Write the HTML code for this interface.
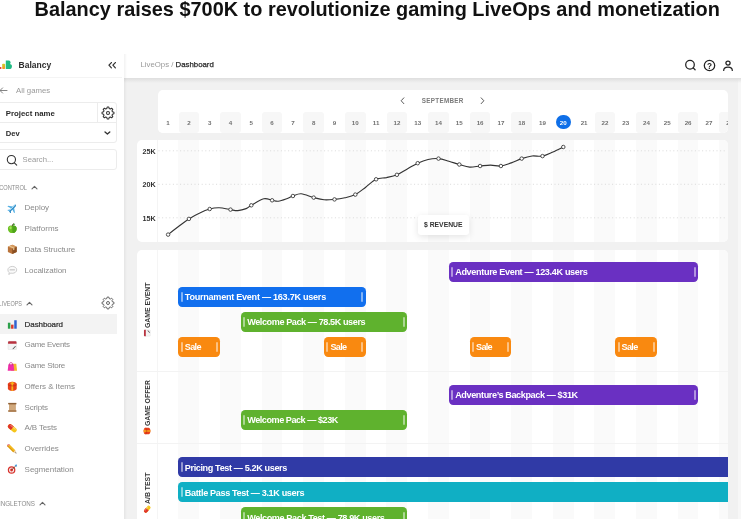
<!DOCTYPE html>
<html lang="en"><head><meta charset="utf-8"><title>Balancy raises $700K to revolutionize gaming LiveOps and monetization</title>
<style>
html,body{margin:0;padding:0}
body{width:741px;height:519px;overflow:hidden;background:#fff;position:relative;font-family:"Liberation Sans",sans-serif;color:#2b2b2b}
.a{position:absolute;white-space:nowrap}
.t{position:absolute;white-space:nowrap;line-height:12px;height:12px;transform-origin:0 50%}
#title{left:34.6px;top:-3.5px;font-weight:bold;font-size:19.9px;line-height:24px;color:#111;letter-spacing:0}
#main{left:124px;top:77.5px;width:613.5px;height:442px;background:#f1f1f1}
#mainr{left:737.5px;top:77.5px;width:4px;height:442px;background:#f7f7f7}
#hshadow{left:124px;top:77.5px;width:617px;height:5px;background:linear-gradient(#dedede,rgba(241,241,241,0))}
#sshadow{left:121px;top:54px;width:6px;height:465px;background:linear-gradient(90deg,rgba(0,0,0,0),rgba(0,0,0,.05) 50%,rgba(0,0,0,0))}
.card{position:absolute;background:#fff;border-radius:5px;overflow:hidden}
.nav{color:#8a8a8a;font-size:7.9px}
.bar{position:absolute;height:20.6px;border-radius:4.2px;color:#fff;font-weight:bold;font-size:9.1px}
.bar i{position:absolute;top:5.3px;width:2px;height:9.8px;background:rgba(255,255,255,.48);border-radius:1px}
.bar i.l{left:2.3px}.bar i.r{right:2.3px}
.bar span{position:absolute;left:6.3px;top:4.7px;line-height:12px;white-space:nowrap}
.day{position:absolute;top:0;width:20.8px;height:21px;line-height:21.8px;text-align:center;font-size:6.2px;font-weight:bold;color:#707070}
.vl{position:absolute;white-space:nowrap;font-weight:bold;font-size:6.9px;line-height:8px;height:8px;color:#383838;transform-origin:0 0;transform:rotate(-90deg)}
</style></head><body>

<div id="title" class="a">Balancy raises $700K to revolutionize gaming LiveOps and monetization</div>
<div id="app" class="a" style="left:0;top:0;width:741px;height:519px;filter:blur(0.4px)">
<div id="main" class="a"></div><div id="mainr" class="a"></div><div id="hshadow" class="a"></div><div id="sshadow" class="a"></div>
<div id="side" class="a" style="left:0;top:54px;width:124px;height:465px;background:#fff"></div>
<div class="a" style="left:0;top:77px;width:122px;height:1px;background:#f4f4f4"></div>
<svg class="a" style="left:0;top:59px" width="14" height="11" viewBox="0 0 14 11"><defs><linearGradient id="lg1" x1="0" y1="0" x2="0" y2="1"><stop offset="0" stop-color="#c9d42c"/><stop offset="1" stop-color="#f7941f"/></linearGradient></defs><rect x="-1" y="8" width="2.500" height="2" rx=".7" fill="#e5433e"/><rect x="2.200" y="4.700" width="2.900" height="5.300" rx=".8" fill="url(#lg1)"/><path d="M5.800 1.500h2.700a2.100 2.100 0 0 1 1.500 3.600 2.500 2.500 0 0 1-1.200 4.900H5.800z" fill="#20ba83"/></svg>
<div class="t" style="left:18.600px;top:58.700px;font-weight:bold;font-size:8.500px;color:#2e2e2e">Balancy</div>
<svg class="a" style="left:107.700px;top:62.200px" width="8.500" height="6.600" viewBox="0 0 9 7"><path d="M3.6.6 1 3.4l2.6 2.8M7.8.6 5.2 3.4l2.6 2.8" fill="none" stroke="#333" stroke-width="1.300" stroke-linecap="round" stroke-linejoin="round"/></svg>
<svg class="a" style="left:-1px;top:86.5px" width="9" height="7" viewBox="0 0 9 7"><path d="M8 3.5H1M3.6.9 1 3.5l2.6 2.6" fill="none" stroke="#777" stroke-width=".9" stroke-linecap="round" stroke-linejoin="round"/></svg>
<div class="t" style="left:16px;top:84.500px;font-size:7.8px;color:#9a9a9a">All games</div>
<div class="a" style="left:-4px;top:102px;width:121px;height:41px;border:1px solid #ececec;border-radius:3px;box-sizing:border-box"></div>
<div class="a" style="left:0;top:122px;width:116px;height:1px;background:#ececec"></div>
<div class="a" style="left:97px;top:103px;width:1px;height:19px;background:#ececec"></div>
<div class="t" style="left:5.8px;top:107.700px;font-weight:bold;font-size:7.8px;color:#2a2a2a">Project name</div>
<div class="t" style="left:5.8px;top:127.500px;font-weight:bold;font-size:7.6px;color:#2a2a2a">Dev</div>
<svg class="a" style="left:100.5px;top:105.9px" width="14" height="14" viewBox="0 0 14 14"><path d="M5.81,2.56 L6.16,1.06 L7.84,1.06 L8.19,2.56 L9.30,3.02 L10.61,2.21 L11.79,3.39 L10.98,4.70 L11.44,5.81 L12.94,6.16 L12.94,7.84 L11.44,8.19 L10.98,9.30 L11.79,10.61 L10.61,11.79 L9.30,10.98 L8.19,11.44 L7.84,12.94 L6.16,12.94 L5.81,11.44 L4.70,10.98 L3.39,11.79 L2.21,10.61 L3.02,9.30 L2.56,8.19 L1.06,7.84 L1.06,6.16 L2.56,5.81 L3.02,4.70 L2.21,3.39 L3.39,2.21 L4.70,3.02Z" fill="none" stroke="#333" stroke-width="1.05" stroke-linejoin="round"/><circle cx="7" cy="7" r="1.500" fill="none" stroke="#333" stroke-width="1.05"/></svg>
<svg class="a" style="left:104.300px;top:131.300px" width="6.800" height="4.300" viewBox="0 0 8 5"><path d="M1.2 1.2 4 3.6l2.800-2.400" fill="none" stroke="#333" stroke-width="1.600" stroke-linecap="round" stroke-linejoin="round"/></svg>
<div class="a" style="left:-4px;top:149px;width:121px;height:21px;border:1px solid #ececec;border-radius:3px;box-sizing:border-box"></div>
<svg class="a" style="left:6px;top:153.5px" width="12" height="12" viewBox="0 0 12 12"><circle cx="5.400" cy="5.600" r="4.100" fill="none" stroke="#333" stroke-width="1.100"/><path d="M8.400 8.800l2.300 2.300" stroke="#333" stroke-width="1.100" stroke-linecap="round"/></svg>
<div class="t" style="left:22.6px;top:153.6px;font-size:7.700px;color:#9a9a9a">Search...</div>
<div class="t" style="left:-23.5px;width:50px;text-align:right;top:181.5px;font-size:6.600px;color:#8a8a8a;transform:scaleX(0.86);transform-origin:100% 50%">CONTROL</div>
<svg class="a" style="left:30.5px;top:185.0px" width="7" height="5" viewBox="0 0 7 5"><path d="M1 3.800 3.500 1.300 6 3.800" fill="none" stroke="#666" stroke-width="1.100" stroke-linecap="round" stroke-linejoin="round"/></svg>
<div class="t" style="left:-28px;width:50px;text-align:right;top:297.5px;font-size:6.600px;color:#8a8a8a;transform:scaleX(0.83);transform-origin:100% 50%">LIVEOPS</div>
<svg class="a" style="left:26px;top:301.0px" width="7" height="5" viewBox="0 0 7 5"><path d="M1 3.800 3.500 1.300 6 3.800" fill="none" stroke="#666" stroke-width="1.100" stroke-linecap="round" stroke-linejoin="round"/></svg>
<div class="t" style="left:-14.799999999999997px;width:50px;text-align:right;top:497.5px;font-size:6.600px;color:#8a8a8a;transform:scaleX(0.95);transform-origin:100% 50%">SINGLETONS</div>
<svg class="a" style="left:39.2px;top:501.0px" width="7" height="5" viewBox="0 0 7 5"><path d="M1 3.800 3.500 1.300 6 3.800" fill="none" stroke="#666" stroke-width="1.100" stroke-linecap="round" stroke-linejoin="round"/></svg>
<svg class="a" style="left:100.5px;top:296.2px" width="14" height="14" viewBox="0 0 14 14"><path d="M5.81,2.56 L6.16,1.06 L7.84,1.06 L8.19,2.56 L9.30,3.02 L10.61,2.21 L11.79,3.39 L10.98,4.70 L11.44,5.81 L12.94,6.16 L12.94,7.84 L11.44,8.19 L10.98,9.30 L11.79,10.61 L10.61,11.79 L9.30,10.98 L8.19,11.44 L7.84,12.94 L6.16,12.94 L5.81,11.44 L4.70,10.98 L3.39,11.79 L2.21,10.61 L3.02,9.30 L2.56,8.19 L1.06,7.84 L1.06,6.16 L2.56,5.81 L3.02,4.70 L2.21,3.39 L3.39,2.21 L4.70,3.02Z" fill="none" stroke="#555" stroke-width="0.9" stroke-linejoin="round"/><circle cx="7" cy="7" r="1.500" fill="none" stroke="#555" stroke-width="0.9"/></svg>
<div class="a" style="left:0;top:314px;width:117px;height:20px;background:#f3f3f3"></div>
<svg class="a" style="left:7px;top:202.6px" width="10.600" height="10.600" viewBox="0 0 12 12"><g transform="rotate(45 6 6)"><path d="M6 .3c.8 0 1.100 1.200 1.100 2.400v1.500l4.300 3v1.200L7.100 7v2.600l1.300 1v.9L6 10.900l-2.400.6v-.9l1.300-1V7L.6 8.400V7.200l4.300-3V2.700C4.900 1.500 5.200.3 6 .3z" fill="#55b0e4"/><path d="M6 .3c.8 0 1.100 1.200 1.100 2.400V9.600l1.300 1v.9L6 10.900z" fill="#2f86c0"/><path d="M5.600 1.500v8" stroke="#d8f0fb" stroke-width=".7"/></g></svg>
<div class="t" style="left:24.600px;top:202.3px;font-size:8px;letter-spacing:-0.101px;color:#8a8a8a">Deploy</div>
<svg class="a" style="left:7px;top:223.4px" width="10.600" height="10.600" viewBox="0 0 12 12"><path d="M6 3.300C7.300 2.300 11 2.600 11 6.500 11 9.400 8.800 11.400 7.400 11.400c-.6 0-.9-.3-1.400-.3s-.8.300-1.400.3C3.200 11.400 1 9.400 1 6.500 1 2.600 4.700 2.300 6 3.300z" fill="#6cc024"/><path d="M6 3.300C7.300 2.300 11 2.600 11 6.500 11 9.400 8.800 11.400 7.400 11.400c-.6 0-.9-.3-1.400-.3z" fill="#4fa51a"/><ellipse cx="4" cy="5.500" rx="1.300" ry="1.700" fill="#b5e86a" opacity=".8"/><path d="M6 3.400C6 2 6.600 1 7.600.5" stroke="#4a2b12" stroke-width=".9" fill="none"/><path d="M6.300 2.300C6.800 1 8.300.7 9.300 1.200 8.800 2.400 7.400 2.800 6.300 2.300z" fill="#3c9a28"/></svg>
<div class="t" style="left:24.600px;top:223.1px;font-size:8px;letter-spacing:0.025px;color:#8a8a8a">Platforms</div>
<svg class="a" style="left:7px;top:244.1px" width="10.600" height="10.600" viewBox="0 0 12 12"><path d="M6 .8 11 3v6L6 11.300 1 9V3z" fill="#b9733a"/><path d="M6 5.200 11 3v6L6 11.300z" fill="#8a4f22"/><path d="M1 3l5-2.200L11 3 6 5.200z" fill="#d59a5f"/><path d="M3.300 1.900 8.400 4.200v2.400l-1.400.6V4.800L2 2.500z" fill="#e9c794"/></svg>
<div class="t" style="left:24.600px;top:243.8px;font-size:8px;letter-spacing:-0.075px;color:#8a8a8a">Data Structure</div>
<svg class="a" style="left:7px;top:264.9px" width="10.600" height="10.600" viewBox="0 0 12 12"><path d="M6 1.600c2.800 0 5 1.700 5 3.900S8.800 9.400 6 9.400c-.6 0-1.200-.1-1.700-.2L2 10.800l.5-2.200C1.600 7.900 1 6.800 1 5.500 1 3.300 3.200 1.600 6 1.600z" fill="#fafafa" stroke="#b9b9b9" stroke-width=".8"/><path d="M3.500 5.500h5" stroke="#aaa" stroke-width=".9" stroke-linecap="round"/></svg>
<div class="t" style="left:24.600px;top:264.6px;font-size:8px;letter-spacing:-0.032px;color:#8a8a8a">Localization</div>
<svg class="a" style="left:7px;top:318.9px" width="10.600" height="10.600" viewBox="0 0 12 12"><rect x="1" y="4.200" width="2.800" height="6.800" fill="#2ca04a"/><rect x="4.600" y="6.400" width="2.800" height="4.600" fill="#d93a2b"/><rect x="8.200" y="1.400" width="2.800" height="9.600" fill="#2f62d0"/></svg>
<div class="t" style="left:24.600px;top:318.6px;font-size:8px;letter-spacing:-0.093px;color:#2a2a2a;-webkit-text-stroke:.2px #2a2a2a">Dashboard</div>
<svg class="a" style="left:7px;top:339.7px" width="10.600" height="10.600" viewBox="0 0 12 12"><rect x="1.200" y="1.500" width="9.600" height="9.500" rx="1" fill="#f4f4f4" stroke="#ddd" stroke-width=".5"/><path d="M1.200 2.500a1 1 0 0 1 1-1h7.600a1 1 0 0 1 1 1v1.700H1.200z" fill="#b8323f"/><path d="M6.500 9.500 9.300 6.700l.8.800-2.800 2.800-1.100.3z" fill="#555"/></svg>
<div class="t" style="left:24.600px;top:339.4px;font-size:8px;letter-spacing:-0.307px;color:#8a8a8a">Game Events</div>
<svg class="a" style="left:7px;top:360.5px" width="10.600" height="10.600" viewBox="0 0 12 12"><path d="M5.500 3.200h5l.9 7.800H4.600z" fill="#f5b62a"/><path d="M1.600 3.800h5.800l.8 7.200H.8z" fill="#f02fa9"/><path d="M2.800 5V3.400a1.700 1.700 0 0 1 3.400 0V5" fill="none" stroke="#c01f86" stroke-width=".7"/></svg>
<div class="t" style="left:24.600px;top:360.2px;font-size:8px;letter-spacing:-0.271px;color:#8a8a8a">Game Store</div>
<svg class="a" style="left:7px;top:381.2px" width="10.600" height="10.600" viewBox="0 0 12 12"><path d="M6 .8c3 0 5 1.400 5 2.300v5.600c0 1.200-2.300 2.500-5 2.500s-5-1.300-5-2.500V3.100C1 2.200 3 .8 6 .8z" fill="#e8401c"/><rect x="5" y="1" width="2" height="10.200" fill="#f7b21a"/><path d="M1 4.300c1.300.9 3.200 1.300 5 1.300s3.700-.4 5-1.300" stroke="#b82a0e" stroke-width=".7" fill="none"/><path d="M6 3.200C4.600 1 3.300 1.500 3.700 2.500 4 3.200 5.200 3.400 6 3.200c.8.200 2 0 2.300-.7C8.700 1.500 7.400 1 6 3.200z" fill="#f7b21a"/></svg>
<div class="t" style="left:24.600px;top:380.9px;font-size:8px;letter-spacing:-0.045px;color:#8a8a8a">Offers &amp; Items</div>
<svg class="a" style="left:7px;top:402.0px" width="10.600" height="10.600" viewBox="0 0 12 12"><path d="M1.500 1h9v1.600h-.8v6.800h.8V11h-9V9.400h.8V2.600h-.8z" fill="#b98b5e"/><rect x="2.300" y="2.600" width="7.400" height="6.800" fill="#d0a87c"/><rect x="1.500" y="1" width="9" height="1.600" fill="#8f6238"/><rect x="1.500" y="9.400" width="9" height="1.600" fill="#a87a4e"/></svg>
<div class="t" style="left:24.600px;top:401.7px;font-size:8px;letter-spacing:-0.176px;color:#8a8a8a">Scripts</div>
<svg class="a" style="left:7px;top:422.7px" width="10.600" height="10.600" viewBox="0 0 12 12"><g transform="rotate(40 6 6)"><rect x=".3" y="3.400" width="11.400" height="5.200" rx="2.600" fill="#f6c51b"/><path d="M2.900 3.400H6v5.200H2.900a2.600 2.600 0 0 1 0-5.200z" fill="#e0342a"/><rect x="2" y="4.100" width="8" height="1.100" rx=".5" fill="#fff" opacity=".35"/></g></svg>
<div class="t" style="left:24.600px;top:422.4px;font-size:8px;letter-spacing:-0.157px;color:#8a8a8a">A/B Tests</div>
<svg class="a" style="left:7px;top:443.5px" width="10.600" height="10.600" viewBox="0 0 12 12"><g transform="translate(12 0) scale(-1 1) rotate(45 6 6)"><rect x="4.400" y="-.8" width="3.200" height="10" fill="#f4b81f"/><rect x="4.400" y="-1.600" width="3.200" height="1.800" rx=".6" fill="#e88a9a"/><path d="M4.400 9.200h3.200L6 12.600z" fill="#e9c9a0"/><path d="M5.400 11.300h1.200L6 12.600z" fill="#333"/><rect x="6.500" y="-.8" width="1.100" height="10" fill="#d9960f"/></g></svg>
<div class="t" style="left:24.600px;top:443.2px;font-size:8px;letter-spacing:-0.061px;color:#8a8a8a">Overrides</div>
<svg class="a" style="left:7px;top:464.2px" width="10.600" height="10.600" viewBox="0 0 12 12"><circle cx="5.200" cy="6.800" r="4.300" fill="#d8322c"/><circle cx="5.200" cy="6.800" r="2.900" fill="#f6ecec"/><circle cx="5.200" cy="6.800" r="1.600" fill="#d8322c"/><path d="M5.200 6.800 9.800 2.200" stroke="#5b3a1e" stroke-width=".9"/><path d="M8.600 1.200 11.300.700 10.800 3.400z" fill="#2a8bd8"/></svg>
<div class="t" style="left:24.600px;top:463.9px;font-size:8px;letter-spacing:-0.034px;color:#8a8a8a">Segmentation</div>
<div class="t" style="left:140.500px;top:59.400px;font-size:7.800px;color:#9a9a9a">LiveOps / <span style="color:#2a2a2a;-webkit-text-stroke:.25px #2a2a2a">Dashboard</span></div>
<svg class="a" style="left:684px;top:59px" width="13" height="13" viewBox="0 0 13 13"><circle cx="6" cy="5.700" r="4.300" fill="none" stroke="#222" stroke-width="1.250"/><path d="M9.200 8.900l1.900 1.900" stroke="#222" stroke-width="1.250" stroke-linecap="round"/></svg>
<svg class="a" style="left:702.900px;top:59px" width="13" height="13" viewBox="0 0 13 13"><circle cx="6.500" cy="6.500" r="5.200" fill="none" stroke="#222" stroke-width="1.250"/><text x="6.500" y="9.500" font-size="8.200" font-weight="bold" text-anchor="middle" fill="#222" font-family="Liberation Sans,sans-serif">?</text></svg>
<svg class="a" style="left:721.700px;top:58.800px" width="12" height="13" viewBox="0 0 12 13"><circle cx="6" cy="4.100" r="2.100" fill="none" stroke="#222" stroke-width="1.250"/><path d="M1.700 11.400C1.700 9 3.400 8.100 6 8.100s4.300.900 4.300 3.300" fill="none" stroke="#222" stroke-width="1.250" stroke-linecap="round"/></svg>
<div class="card" style="left:157.500px;top:90px;width:570.300px;height:42.500px">
<svg class="a" style="left:242.300px;top:7px" width="5" height="7.500" viewBox="0 0 6 9"><path d="M4.600 1 1.400 4.500l3.200 3.500" fill="none" stroke="#555" stroke-width="1.150" stroke-linecap="round" stroke-linejoin="round"/></svg>
<div class="t" style="left:264.300px;top:4.800px;font-size:6.300px;font-weight:bold;color:#7b7b7b;letter-spacing:0.289px">SEPTEMBER</div>
<svg class="a" style="left:322px;top:7px" width="5" height="7.500" viewBox="0 0 6 9"><path d="M1.400 1 4.600 4.500 1.400 8" fill="none" stroke="#555" stroke-width="1.150" stroke-linecap="round" stroke-linejoin="round"/></svg>
<div class="a" style="left:0;top:21.500px;width:571px;height:21px;background:#fff">
<div class="day" style="left:0.2px;">1</div>
<div class="day" style="left:21.0px;background:#f7f7f7;border-radius:3px;">2</div>
<div class="day" style="left:41.8px;">3</div>
<div class="day" style="left:62.6px;background:#f7f7f7;border-radius:3px;">4</div>
<div class="day" style="left:83.4px;">5</div>
<div class="day" style="left:104.2px;background:#f7f7f7;border-radius:3px;">6</div>
<div class="day" style="left:125.0px;">7</div>
<div class="day" style="left:145.8px;background:#f7f7f7;border-radius:3px;">8</div>
<div class="day" style="left:166.6px;">9</div>
<div class="day" style="left:187.4px;background:#f7f7f7;border-radius:3px;">10</div>
<div class="day" style="left:208.2px;">11</div>
<div class="day" style="left:229.0px;background:#f7f7f7;border-radius:3px;">12</div>
<div class="day" style="left:249.8px;">13</div>
<div class="day" style="left:270.6px;background:#f7f7f7;border-radius:3px;">14</div>
<div class="day" style="left:291.4px;">15</div>
<div class="day" style="left:312.2px;background:#f7f7f7;border-radius:3px;">16</div>
<div class="day" style="left:333.0px;">17</div>
<div class="day" style="left:353.8px;background:#f7f7f7;border-radius:3px;">18</div>
<div class="day" style="left:374.6px;">19</div>
<div class="day" style="left:395.4px;color:#fff;font-weight:bold"><b style="position:absolute;left:3.100px;top:3.200px;width:14.600px;height:14.600px;border-radius:50%;background:#0f6fe8;"></b><span style="position:relative">20</span></div>
<div class="day" style="left:416.2px;">21</div>
<div class="day" style="left:437.0px;background:#f7f7f7;border-radius:3px;">22</div>
<div class="day" style="left:457.8px;">23</div>
<div class="day" style="left:478.6px;background:#f7f7f7;border-radius:3px;">24</div>
<div class="day" style="left:499.4px;">25</div>
<div class="day" style="left:520.2px;background:#f7f7f7;border-radius:3px;">26</div>
<div class="day" style="left:541.0px;">27</div>
<div class="day" style="left:561.8px;background:#f7f7f7;border-radius:3px;">28</div>
</div></div>
<div class="card" style="left:136.900px;top:140.100px;width:590.900px;height:102.300px">
<div class="a" style="left:41.6px;top:0px;width:20.8px;height:103px;background:#fafafa"></div><div class="a" style="left:83.2px;top:0px;width:20.8px;height:103px;background:#fafafa"></div><div class="a" style="left:124.8px;top:0px;width:20.8px;height:103px;background:#fafafa"></div><div class="a" style="left:166.4px;top:0px;width:20.8px;height:103px;background:#fafafa"></div><div class="a" style="left:208.0px;top:0px;width:20.8px;height:103px;background:#fafafa"></div><div class="a" style="left:249.6px;top:0px;width:20.8px;height:103px;background:#fafafa"></div><div class="a" style="left:291.2px;top:0px;width:20.8px;height:103px;background:#fafafa"></div><div class="a" style="left:332.8px;top:0px;width:20.8px;height:103px;background:#fafafa"></div><div class="a" style="left:374.4px;top:0px;width:20.8px;height:103px;background:#fafafa"></div><div class="a" style="left:416.0px;top:0px;width:20.8px;height:103px;background:#fafafa"></div><div class="a" style="left:457.6px;top:0px;width:20.8px;height:103px;background:#fafafa"></div><div class="a" style="left:499.2px;top:0px;width:20.8px;height:103px;background:#fafafa"></div><div class="a" style="left:540.8px;top:0px;width:20.8px;height:103px;background:#fafafa"></div><div class="a" style="left:582.4px;top:0px;width:20.8px;height:103px;background:#fafafa"></div>
<div class="a" style="left:20.300px;top:0;width:1px;height:103px;background:#f4f4f4"></div>
</div>
<svg class="a" style="left:0;top:0" width="741" height="519" viewBox="0 0 741 519">
<path d="M158.500 150.8H727" stroke="#d6d6d6" stroke-width=".9" stroke-dasharray="1 2.600"/>
<path d="M158.500 184.3H727" stroke="#d6d6d6" stroke-width=".9" stroke-dasharray="1 2.600"/>
<path d="M158.500 217.8H727" stroke="#d6d6d6" stroke-width=".9" stroke-dasharray="1 2.600"/>
<text x="142.500" y="153.9" font-size="7.200" font-weight="bold" fill="#333" font-family="Liberation Sans,sans-serif">25K</text>
<text x="142.500" y="187.4" font-size="7.200" font-weight="bold" fill="#333" font-family="Liberation Sans,sans-serif">20K</text>
<text x="142.500" y="220.9" font-size="7.200" font-weight="bold" fill="#333" font-family="Liberation Sans,sans-serif">15K</text>
<path d="M168.1,234.6 C169.8,233.2 175.0,229.1 178.5,226.5 C182.0,223.9 185.4,221.1 188.9,218.9 C192.4,216.7 195.8,214.8 199.3,213.2 C202.8,211.5 206.4,209.9 209.7,209.0 C213.0,208.1 215.6,207.7 219.1,207.8 C222.5,207.9 227.4,209.1 230.5,209.6 C233.6,210.1 235.2,210.8 237.8,210.6 C240.4,210.4 243.8,209.5 246.1,208.6 C248.4,207.7 248.4,206.9 251.3,205.3 C254.2,203.7 260.3,199.6 263.8,198.8 C267.2,198.0 269.7,199.9 272.1,200.3 C274.5,200.7 275.9,201.5 278.3,201.2 C280.8,200.9 284.2,199.6 286.7,198.7 C289.1,197.8 290.5,196.8 292.9,196.0 C295.3,195.2 297.8,193.5 301.2,193.8 C304.7,194.1 309.9,196.6 313.7,197.6 C317.5,198.6 320.6,199.5 324.1,199.8 C327.6,200.1 331.0,199.7 334.5,199.4 C338.0,199.1 341.4,198.6 344.9,197.8 C348.4,197.0 351.8,196.4 355.3,194.6 C358.8,192.8 362.2,189.8 365.7,187.2 C369.2,184.6 372.6,180.9 376.1,179.3 C379.6,177.7 383.0,178.3 386.5,177.6 C390.0,176.8 393.4,176.2 396.9,174.8 C400.4,173.4 403.8,170.8 407.3,168.9 C410.8,167.0 414.2,164.8 417.7,163.2 C421.2,161.6 424.6,160.3 428.1,159.5 C431.6,158.7 435.0,158.3 438.5,158.6 C442.0,158.9 445.4,160.2 448.9,161.2 C452.4,162.2 455.8,163.5 459.3,164.5 C462.8,165.5 466.2,166.8 469.7,167.1 C473.2,167.3 476.6,166.3 480.1,166.0 C483.6,165.7 487.0,165.1 490.5,165.1 C494.0,165.1 497.4,166.4 500.9,166.0 C504.4,165.6 507.8,164.1 511.3,162.9 C514.8,161.7 518.2,159.8 521.7,158.6 C525.2,157.4 528.6,156.4 532.1,156.0 C535.6,155.6 539.0,156.8 542.5,156.1 C546.0,155.4 549.4,153.5 552.9,152.0 C556.4,150.5 561.6,147.8 563.3,147.0" fill="none" stroke="#333" stroke-width="1.150"/>
<circle cx="168.1" cy="234.6" r="1.750" fill="#fff" stroke="#333" stroke-width=".85"/>
<circle cx="188.9" cy="218.9" r="1.750" fill="#fff" stroke="#333" stroke-width=".85"/>
<circle cx="209.7" cy="209.0" r="1.750" fill="#fff" stroke="#333" stroke-width=".85"/>
<circle cx="230.5" cy="209.6" r="1.750" fill="#fff" stroke="#333" stroke-width=".85"/>
<circle cx="251.3" cy="205.3" r="1.750" fill="#fff" stroke="#333" stroke-width=".85"/>
<circle cx="272.1" cy="200.3" r="1.750" fill="#fff" stroke="#333" stroke-width=".85"/>
<circle cx="292.9" cy="196.0" r="1.750" fill="#fff" stroke="#333" stroke-width=".85"/>
<circle cx="313.7" cy="197.6" r="1.750" fill="#fff" stroke="#333" stroke-width=".85"/>
<circle cx="334.5" cy="199.4" r="1.750" fill="#fff" stroke="#333" stroke-width=".85"/>
<circle cx="355.3" cy="194.6" r="1.750" fill="#fff" stroke="#333" stroke-width=".85"/>
<circle cx="376.1" cy="179.3" r="1.750" fill="#fff" stroke="#333" stroke-width=".85"/>
<circle cx="396.9" cy="174.8" r="1.750" fill="#fff" stroke="#333" stroke-width=".85"/>
<circle cx="417.7" cy="163.2" r="1.750" fill="#fff" stroke="#333" stroke-width=".85"/>
<circle cx="438.5" cy="158.6" r="1.750" fill="#fff" stroke="#333" stroke-width=".85"/>
<circle cx="459.3" cy="164.5" r="1.750" fill="#fff" stroke="#333" stroke-width=".85"/>
<circle cx="480.1" cy="166.0" r="1.750" fill="#fff" stroke="#333" stroke-width=".85"/>
<circle cx="500.9" cy="166.0" r="1.750" fill="#fff" stroke="#333" stroke-width=".85"/>
<circle cx="521.7" cy="158.6" r="1.750" fill="#fff" stroke="#333" stroke-width=".85"/>
<circle cx="542.5" cy="156.1" r="1.750" fill="#fff" stroke="#333" stroke-width=".85"/>
<circle cx="563.3" cy="147.0" r="1.750" fill="#fff" stroke="#333" stroke-width=".85"/>
</svg>
<div class="a" style="left:417.500px;top:215px;width:51.500px;height:19.500px;background:#fff;border-radius:3px;box-shadow:0 2px 7px rgba(0,0,0,.11)"></div>
<div class="t" style="left:424px;top:218.700px;font-size:6.800px;font-weight:bold;color:#333">$ REVENUE</div>
<div class="card" style="left:136.700px;top:249.500px;width:591.100px;height:280px">
<div class="a" style="left:41.8px;top:0px;width:20.8px;height:280px;background:#fafafa"></div><div class="a" style="left:83.4px;top:0px;width:20.8px;height:280px;background:#fafafa"></div><div class="a" style="left:125.0px;top:0px;width:20.8px;height:280px;background:#fafafa"></div><div class="a" style="left:166.6px;top:0px;width:20.8px;height:280px;background:#fafafa"></div><div class="a" style="left:208.2px;top:0px;width:20.8px;height:280px;background:#fafafa"></div><div class="a" style="left:249.8px;top:0px;width:20.8px;height:280px;background:#fafafa"></div><div class="a" style="left:291.4px;top:0px;width:20.8px;height:280px;background:#fafafa"></div><div class="a" style="left:333.0px;top:0px;width:20.8px;height:280px;background:#fafafa"></div><div class="a" style="left:374.6px;top:0px;width:20.8px;height:280px;background:#fafafa"></div><div class="a" style="left:416.2px;top:0px;width:20.8px;height:280px;background:#fafafa"></div><div class="a" style="left:457.8px;top:0px;width:20.8px;height:280px;background:#fafafa"></div><div class="a" style="left:499.4px;top:0px;width:20.8px;height:280px;background:#fafafa"></div><div class="a" style="left:541.0px;top:0px;width:20.8px;height:280px;background:#fafafa"></div><div class="a" style="left:582.6px;top:0px;width:20.8px;height:280px;background:#fafafa"></div>
<div class="a" style="left:20.800px;top:0;width:1px;height:280px;background:#f5f5f5"></div>
<div class="a" style="left:0;top:121px;width:592px;height:1.300px;background:#f3f3f3"></div>
<div class="a" style="left:0;top:193.200px;width:592px;height:1.300px;background:#f3f3f3"></div>
<div class="bar" style="left:312.2px;top:12.1px;width:249.6px;background:#6a30c2;"><i class="l"></i><i class="r"></i><span style="letter-spacing:-0.342px">Adventure Event — 123.4K users</span></div>
<div class="bar" style="left:41.8px;top:37.1px;width:187.2px;background:#116fee;"><i class="l"></i><i class="r"></i><span style="letter-spacing:-0.267px">Tournament Event — 163.7K users</span></div>
<div class="bar" style="left:104.2px;top:62.1px;width:166.4px;background:#5fb22e;"><i class="l"></i><i class="r"></i><span style="letter-spacing:-0.413px">Welcome Pack — 78.5K users</span></div>
<div class="bar" style="left:41.8px;top:87.1px;width:41.6px;background:#f98910;"><i class="l"></i><i class="r"></i><span style="letter-spacing:-0.673px">Sale</span></div>
<div class="bar" style="left:187.4px;top:87.1px;width:41.6px;background:#f98910;"><i class="l"></i><i class="r"></i><span style="letter-spacing:-0.673px">Sale</span></div>
<div class="bar" style="left:333.0px;top:87.1px;width:41.6px;background:#f98910;"><i class="l"></i><i class="r"></i><span style="letter-spacing:-0.673px">Sale</span></div>
<div class="bar" style="left:478.6px;top:87.1px;width:41.6px;background:#f98910;"><i class="l"></i><i class="r"></i><span style="letter-spacing:-0.673px">Sale</span></div>
<div class="bar" style="left:312.2px;top:135.1px;width:249.6px;background:#6a30c2;"><i class="l"></i><i class="r"></i><span style="letter-spacing:-0.389px">Adventure’s Backpack — $31K</span></div>
<div class="bar" style="left:104.2px;top:160.1px;width:166.4px;background:#5fb22e;"><i class="l"></i><i class="r"></i><span style="letter-spacing:-0.457px">Welcome Pack — $23K</span></div>
<div class="bar" style="left:41.8px;top:207.4px;width:549.3px;background:#303aa6;border-radius:4.200px 0 0 4.200px;"><i class="l"></i><span style="letter-spacing:-0.376px">Pricing Test — 5.2K users</span></div>
<div class="bar" style="left:41.8px;top:232.4px;width:549.3px;background:#10afc4;border-radius:4.200px 0 0 4.200px;"><i class="l"></i><span style="letter-spacing:-0.358px">Battle Pass Test — 3.1K users</span></div>
<div class="bar" style="left:104.2px;top:257.6px;width:166.4px;background:#5fb22e;"><i class="l"></i><i class="r"></i><span style="letter-spacing:-0.386px">Welcome Pack Test — 78.9K users</span></div>
</div>
<div class="vl" style="left:143.9px;top:328px">GAME EVENT</div>
<div class="vl" style="left:143.9px;top:425.7px">GAME OFFER</div>
<div class="vl" style="left:143.9px;top:503.5px">A/B TEST</div>
<svg class="a" style="left:142.800px;top:328.900px" width="8" height="8" viewBox="0 0 12 12"><g transform="rotate(-90 6 6)"><rect x="1.200" y="1.500" width="9.600" height="9.500" rx="1" fill="#f4f4f4" stroke="#ddd" stroke-width=".5"/><path d="M1.200 2.500a1 1 0 0 1 1-1h7.600a1 1 0 0 1 1 1v1.700H1.200z" fill="#b8323f"/><path d="M6.500 9.500 9.300 6.700l.8.800-2.800 2.800-1.100.3z" fill="#555"/></g></svg>
<svg class="a" style="left:142.500px;top:427px" width="8" height="8" viewBox="0 0 12 12"><g transform="rotate(-90 6 6)"><path d="M6 .8c3 0 5 1.400 5 2.300v5.600c0 1.200-2.300 2.500-5 2.500s-5-1.300-5-2.500V3.100C1 2.200 3 .8 6 .8z" fill="#e8401c"/><rect x="5" y="1" width="2" height="10.200" fill="#f7b21a"/><path d="M1 4.300c1.300.9 3.200 1.300 5 1.300s3.700-.4 5-1.300" stroke="#b82a0e" stroke-width=".7" fill="none"/><path d="M6 3.200C4.600 1 3.300 1.500 3.700 2.500 4 3.200 5.200 3.400 6 3.200c.8.200 2 0 2.300-.7C8.700 1.500 7.400 1 6 3.200z" fill="#f7b21a"/></g></svg>
<svg class="a" style="left:142.500px;top:504.500px" width="8.500" height="8.500" viewBox="0 0 12 12"><g transform="rotate(-90 6 6)"><g transform="rotate(40 6 6)"><rect x=".3" y="3.400" width="11.400" height="5.200" rx="2.600" fill="#f6c51b"/><path d="M2.900 3.400H6v5.200H2.900a2.600 2.600 0 0 1 0-5.200z" fill="#e0342a"/><rect x="2" y="4.100" width="8" height="1.100" rx=".5" fill="#fff" opacity=".35"/></g></g></svg>
</div>
</body></html>
